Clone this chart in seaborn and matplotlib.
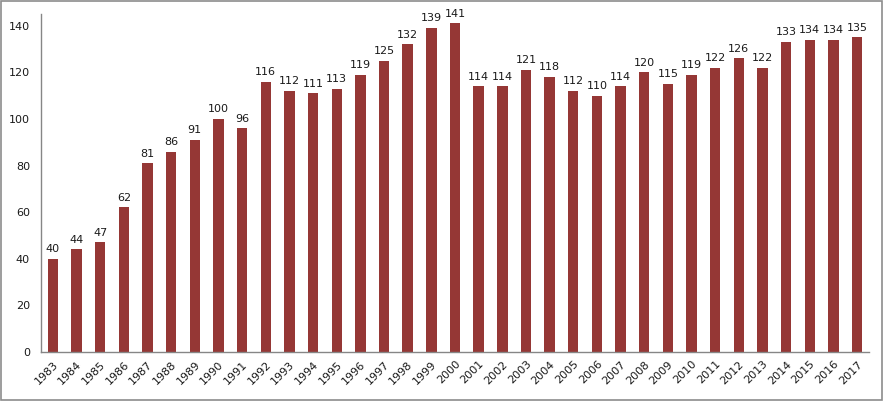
import seaborn as sns
import matplotlib.pyplot as plt
import pandas as pd
import numpy as np
from matplotlib.patches import Rectangle

years = [str(y) for y in range(1983, 2018)]
values = [40, 44, 47, 62, 81, 86, 91, 100, 96,
          116, 112, 111, 113, 119, 125, 132, 139, 141,
          114, 114, 121, 118, 112, 110, 114, 120, 115,
          119, 122, 126, 122, 133, 134, 134, 135]

df = pd.DataFrame({"year": years, "value": values})

sns.set_theme(style="white")
plt.rcParams["font.family"] = ["DejaVu Sans"]

fig = plt.figure(figsize=(8.84, 4.01), dpi=100)
ax = fig.add_axes([0.0464, 0.1222, 0.9366, 0.8428])

sns.barplot(data=df, x="year", y="value", color="#953735", width=0.44,
            saturation=1, linewidth=0, ax=ax)

for i, v in enumerate(values):
    ax.text(i, v + 2, str(v), ha="center", va="bottom", fontsize=8, color="#1a1a1a")

ax.set_ylim(0, 145)
ax.set_xlim(-0.5, len(years) - 0.5)
ax.set_yticks(range(0, 141, 20))
ax.set_xlabel("")
ax.set_ylabel("")

ax.set_xticks(np.arange(len(years)))
ax.set_xticklabels(years, rotation=45, ha="right", rotation_mode="anchor", fontsize=8)
ax.set_xticks(np.arange(-0.5, len(years)), minor=True)
ax.tick_params(axis="x", which="major", length=0, pad=5)
ax.tick_params(axis="x", which="minor", length=5, width=1, color="#868686", direction="out")
ax.tick_params(axis="y", length=5, width=1, color="#868686", direction="out", labelsize=8, pad=3)
ax.tick_params(axis="both", labelcolor="#1a1a1a")

sns.despine(ax=ax)
for s in ["left", "bottom"]:
    ax.spines[s].set_color("#868686")
    ax.spines[s].set_linewidth(1)

fig.patches.append(Rectangle((0.001, 0.002), 0.997, 0.995, transform=fig.transFigure,
                             fill=False, edgecolor="#8c8c8c", linewidth=1.2))

fig.savefig("out.png", dpi=100)
